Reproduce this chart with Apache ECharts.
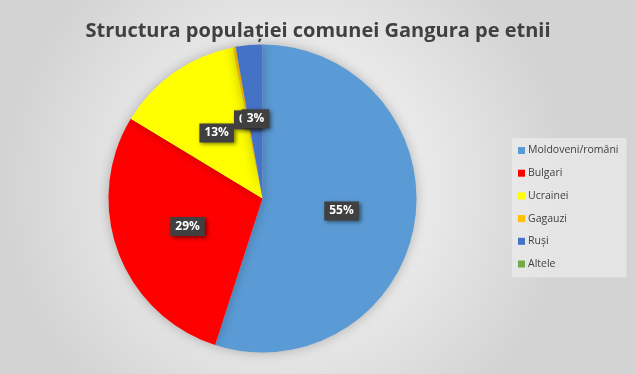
<!DOCTYPE html>
<html><head><meta charset="utf-8">
<script src="https://cdn.jsdelivr.net/npm/echarts@6/dist/echarts.min.js"></script>
<style>html,body{margin:0;padding:0;background:#fff}#c{width:636px;height:374px}</style>
</head><body><div id="c"></div>
<script>
const title = 'Structura populației comunei Gangura pe etnii';
const categories = ['Moldoveni/români','Bulgari','Ucrainei','Gagauzi','Ruși','Altele'];
const values = [55.2, 28.8, 13.3, 0.3, 2.8, 0.0];
const colors = ['#5B9BD5','#FF0000','#FFFF00','#FFC000','#4472C4','#70AD47'];

const chart = echarts.init(document.getElementById('c'));
chart.setOption({
  backgroundColor: {type:'radial', x:0.45, y:0.5, r:0.75, colorStops:[{offset:0,color:'#ffffff'},{offset:1,color:'#d3d3d3'}]},
  title: {text: title, left: 'center', top: 16, textStyle:{fontFamily:'Open Sans', fontWeight:'bold', fontSize:20, color:'#404040'}},
  legend: {
    orient:'vertical', left:512, top:138, padding:[7,8,8,6],
    backgroundColor:'rgba(240,240,240,0.6)',
    itemWidth:7, itemHeight:7, itemGap:11.7, icon:'rect',
    textStyle:{fontFamily:'Open Sans', fontSize:10.5, color:'#404040', padding:[0,0,0,-2]},
    data: categories
  },
  series:[{
    type:'pie', center:[262.5,198.5], radius:154, startAngle:90, clockwise:true,
    silent:true, animation:false,
    labelLayout:{hideOverlap:false},
    data: categories.map((c,i)=>({name:c, value:values[i], itemStyle:{color:colors[i]},
      label: values[i] === 0 ? {show:false} : undefined})),
    itemStyle:{shadowBlur:12, shadowColor:'rgba(0,0,0,0.25)'},
    label:{show:true, position:'inside', formatter: p => Math.round(p.value) + '%',
      fontFamily:'Open Sans', fontWeight:'bold', fontSize:12, color:'#fff',
      backgroundColor:'#404040', padding:[4,5,3,5],
      shadowBlur:4, shadowColor:'rgba(0,0,0,0.5)', shadowOffsetX:2, shadowOffsetY:2},
    labelLine:{show:false}
  }]
});
</script></body></html>
